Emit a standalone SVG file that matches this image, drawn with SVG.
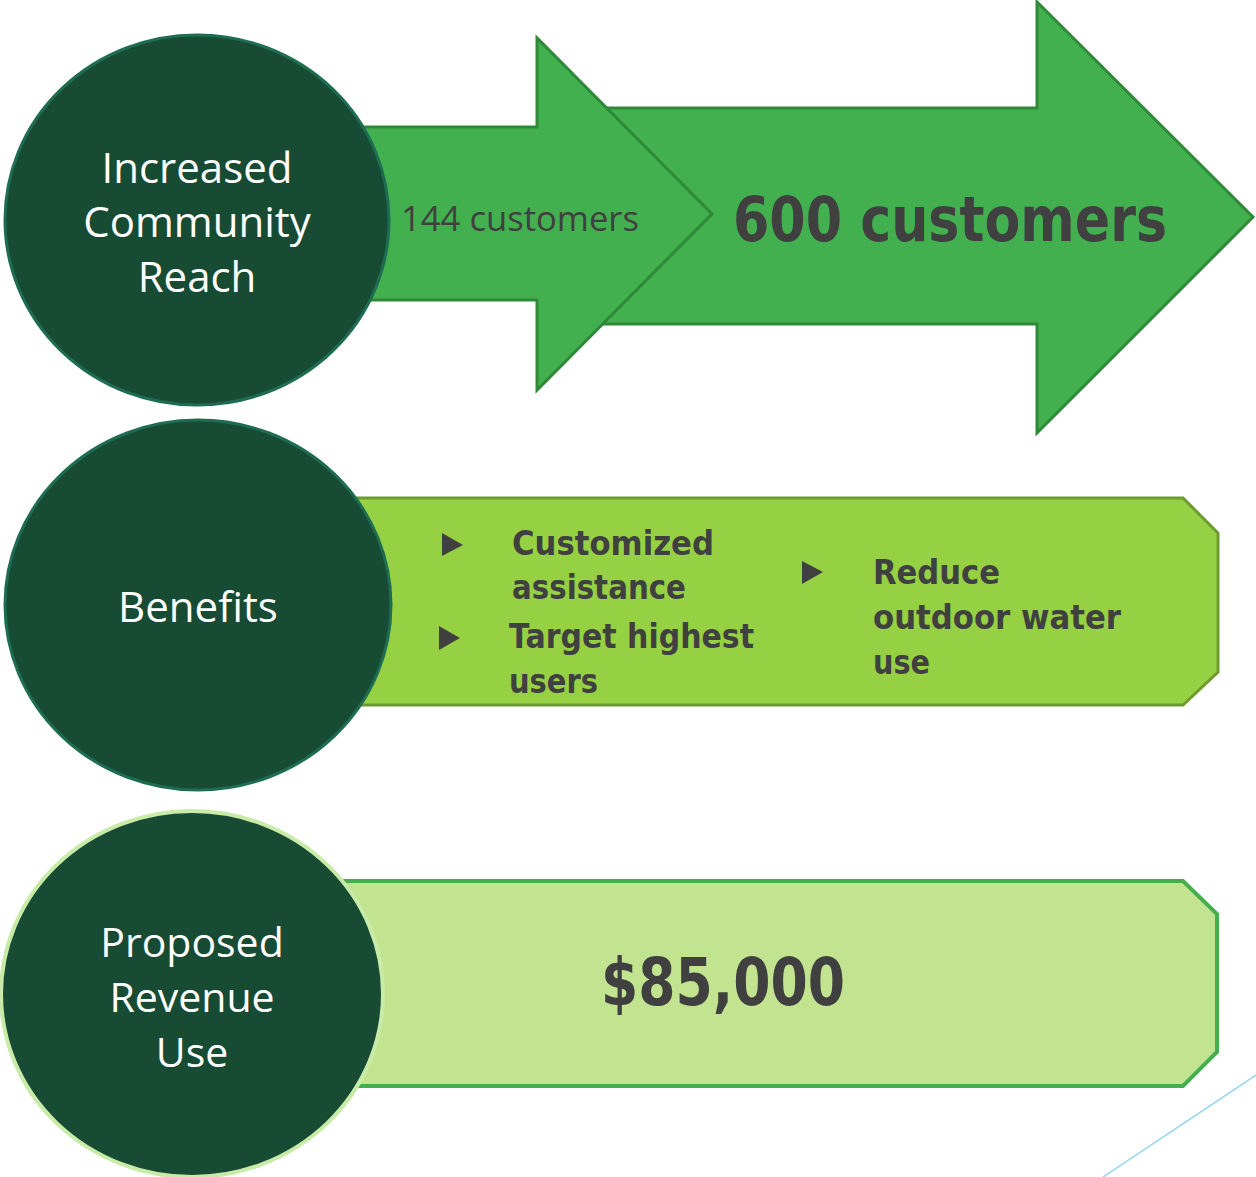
<svg xmlns="http://www.w3.org/2000/svg" width="1256" height="1177" viewBox="0 0 1256 1177">
<style>
.arrow{fill:#43B04F;stroke:#2E8A39;stroke-width:3;stroke-linejoin:miter}
.circ{fill:#184B34;stroke:#1E6D52;stroke-width:3}
.circ3{fill:#184B34;stroke:#C9EBA8;stroke-width:4}
.lbl{font-family:"Open Sans","Liberation Sans",sans-serif;fill:#FFFFFF;text-anchor:middle}
.dark{fill:#404040}
.bold{font-family:"DejaVu Sans","Liberation Sans",sans-serif;font-weight:bold;fill:#404040}
.bul{fill:#404040}
</style>
<rect width="1256" height="1177" fill="#FFFFFF"/>
<g id="connectors">
<line x1="1256" y1="1075" x2="1103" y2="1177" stroke="#8FD6EF" stroke-width="1.5"/>
</g>
<g id="arrow-600">
<polygon class="arrow" points="560,108 1037,108 1037,2 1253,217 1037,433 1037,324 560,324"/>
<text class="bold" x="733" y="241" font-size="62" textLength="434" lengthAdjust="spacingAndGlyphs">600 customers</text>
</g>
<g id="arrow-144">
<polygon class="arrow" points="340,127 537,127 537,38 712,214 537,390 537,300 340,300"/>
<text x="401" y="231" font-family="'Open Sans','Liberation Sans',sans-serif" font-size="34" fill="#404040" textLength="238" lengthAdjust="spacingAndGlyphs">144 customers</text>
</g>
<g id="reach">
<ellipse class="circ" cx="197" cy="220" rx="192" ry="185"/>
<text class="lbl" font-size="42"><tspan x="197" y="183">Increased</tspan><tspan x="197" y="237">Community</tspan><tspan x="197" y="292">Reach</tspan></text>
</g>
<g id="benefits-box">
<polygon points="340,498 1183,498 1218,533 1218,672 1183,705 340,705" fill="#96D143" stroke="#6E9B2F" stroke-width="3"/>
<polygon class="bul" points="442,533 463,545 442,556"/>
<polygon class="bul" points="439,626 460,638 439,650"/>
<polygon class="bul" points="802,561 823,572 802,584"/>
<text class="bold" font-size="34"><tspan x="512" y="555" textLength="202" lengthAdjust="spacingAndGlyphs">Customized</tspan><tspan x="512" y="599" textLength="174" lengthAdjust="spacingAndGlyphs">assistance</tspan></text>
<text class="bold" font-size="34"><tspan x="509" y="648" textLength="245" lengthAdjust="spacingAndGlyphs">Target highest</tspan><tspan x="509" y="693" textLength="89" lengthAdjust="spacingAndGlyphs">users</tspan></text>
<text class="bold" font-size="34"><tspan x="873" y="584" textLength="127" lengthAdjust="spacingAndGlyphs">Reduce</tspan><tspan x="873" y="629" textLength="248" lengthAdjust="spacingAndGlyphs">outdoor water</tspan><tspan x="873" y="674" textLength="57" lengthAdjust="spacingAndGlyphs">use</tspan></text>
</g>
<g id="benefits">
<ellipse class="circ" cx="198" cy="605" rx="193" ry="185"/>
<text class="lbl" font-size="42" x="198" y="622">Benefits</text>
</g>
<g id="revenue-box">
<polygon points="330,881 1183,881 1217,914 1217,1052 1183,1086 330,1086" fill="#C2E490" stroke="#47AE4F" stroke-width="4"/>
<text class="bold" x="601" y="1005" font-size="66" textLength="244" lengthAdjust="spacingAndGlyphs">$85,000</text>
</g>
<g id="revenue">
<ellipse class="circ3" cx="192" cy="994" rx="191" ry="183"/>
<text class="lbl" font-size="41"><tspan x="192" y="957">Proposed</tspan><tspan x="192" y="1012">Revenue</tspan><tspan x="192" y="1067">Use</tspan></text>
</g>
</svg>
